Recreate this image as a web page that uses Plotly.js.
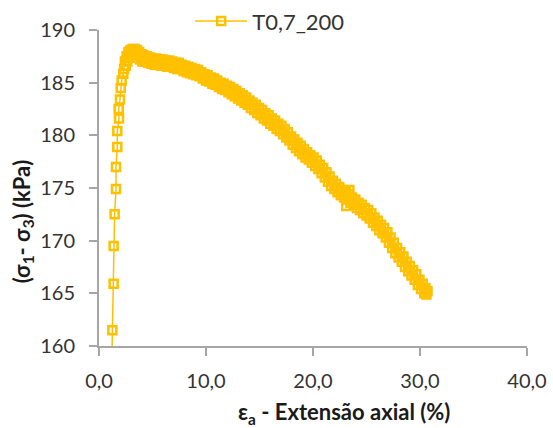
<!DOCTYPE html>
<html>
<head>
<meta charset="utf-8">
<script src="https://cdn.plot.ly/plotly-3.0.1.min.js"></script>
<style>
  html, body { margin: 0; padding: 0; background: #fff; }
  #chart { width: 553px; height: 428px; }
</style>
</head>
<body>
<div id="chart"></div>
<script>
// Ensaio triaxial T0,7_200: tensão desviatória vs. extensão axial
const seriesName = "T0,7_200";

// Extensão axial (%)
const strainAxial = [
  1.15, 1.25, 1.37, 1.37, 1.46, 1.59, 1.59, 1.71, 1.71, 1.87, 1.84, 1.96, 2.03, 2.12, 2.27,
  2.35, 2.42, 2.50, 2.58, 2.65, 2.75, 2.85, 2.95, 3.05, 3.15, 3.25, 3.35, 3.45, 3.55, 3.65,
  3.75, 3.85, 3.95, 4.05, 4.15, 4.30, 4.45, 4.60, 4.75, 4.90, 5.05, 5.20, 5.35, 5.50, 5.65,
  5.80, 5.95, 6.10, 6.25, 6.40, 6.55, 6.70, 6.85, 7.00, 7.15, 7.30, 7.45, 7.60, 7.75, 7.90,
  8.05, 8.20, 8.35, 8.50, 8.65, 8.80, 8.95, 9.10, 9.25, 9.40, 9.55, 9.70, 9.85, 10.00, 10.15,
  10.30, 10.45, 10.60, 10.75, 10.90, 11.05, 11.20, 11.35, 11.50, 11.65, 11.80, 11.95, 12.10, 12.25, 12.40,
  12.55, 12.70, 12.85, 13.00, 13.15, 13.30, 13.45, 13.60, 13.75, 13.90, 14.05, 14.20, 14.35, 14.50, 14.65,
  14.80, 14.95, 15.10, 15.25, 15.40, 15.55, 15.70, 15.85, 16.00, 16.15, 16.30, 16.45, 16.60, 16.75, 16.90,
  17.05, 17.20, 17.35, 17.50, 17.65, 17.80, 17.95, 18.10, 18.25, 18.40, 18.55, 18.70, 18.85, 19.00, 19.15,
  19.30, 19.45, 19.60, 19.75, 19.90, 20.05, 20.20, 20.35, 20.50, 20.65, 20.80, 20.95, 21.10, 21.25, 21.40,
  21.55, 21.70, 21.85, 22.00, 22.15, 22.30, 22.45, 22.60, 22.75, 22.90, 23.05, 23.10, 23.20, 23.35, 23.40,
  23.50, 23.65, 23.80, 23.95, 24.10, 24.25, 24.40, 24.55, 24.70, 24.85, 25.00, 25.15, 25.30, 25.45, 25.60,
  25.75, 25.90, 26.05, 26.20, 26.35, 26.50, 26.65, 26.80, 26.95, 27.10, 27.25, 27.40, 27.55, 27.70, 27.85,
  28.00, 28.15, 28.30, 28.45, 28.60, 28.75, 28.90, 29.05, 29.20, 29.35, 29.50, 29.65, 29.80, 29.95, 30.10,
  30.25, 30.40, 30.50, 30.60, 30.70
];

// Tensão desviatória (σ1 - σ3), kPa
const deviatorStress = [
  156.0, 161.5, 165.9, 169.5, 172.5, 174.9, 177.0, 178.9, 180.4, 181.6, 182.5, 183.4, 184.5, 185.2, 185.85,
  186.3, 187.0, 186.6, 187.5, 187.0, 187.9, 187.4, 188.1, 187.6, 188.2, 187.7, 188.2, 187.6, 188.1, 187.4,
  187.9, 187.2, 187.7, 187.0, 187.6, 187.0, 187.5, 186.9, 187.4, 186.8, 187.3, 186.7, 187.3, 186.7, 187.2,
  186.6, 187.2, 186.6, 187.1, 186.5, 187.1, 186.5, 187.0, 186.4, 186.9, 186.3, 186.9, 186.3, 186.7, 186.1,
  186.6, 186.0, 186.5, 185.9, 186.4, 185.8, 186.3, 185.7, 186.2, 185.6, 186.0, 185.4, 185.8, 185.2, 185.7,
  185.1, 185.5, 184.9, 185.4, 184.8, 185.2, 184.6, 185.0, 184.4, 184.9, 184.3, 184.7, 184.1, 184.6, 183.9,
  184.4, 183.7, 184.2, 183.5, 184.0, 183.3, 183.8, 183.1, 183.6, 182.9, 183.3, 182.6, 183.1, 182.4, 182.9,
  182.1, 182.6, 181.9, 182.4, 181.6, 182.1, 181.4, 181.9, 181.1, 181.6, 180.9, 181.4, 180.6, 181.1, 180.4,
  180.9, 180.1, 180.6, 179.8, 180.3, 179.5, 179.9, 179.1, 179.6, 178.8, 179.3, 178.5, 179.0, 178.2, 178.7,
  177.9, 178.4, 177.7, 178.1, 177.4, 177.9, 177.1, 177.6, 176.8, 177.2, 176.4, 176.9, 176.0, 176.5, 175.6,
  176.1, 175.2, 175.7, 174.9, 175.4, 174.6, 175.1, 174.3, 174.8, 174.1, 174.6, 173.3, 173.9, 174.4, 174.8,
  173.6, 174.1, 173.4, 173.9, 173.1, 173.6, 172.9, 173.4, 172.6, 173.1, 172.4, 172.9, 172.1, 172.6, 171.7,
  172.2, 171.4, 171.9, 171.0, 171.5, 170.7, 171.2, 170.3, 170.8, 169.8, 170.3, 169.3, 169.8, 168.8, 169.3,
  168.4, 168.9, 168.0, 168.5, 167.5, 168.0, 167.1, 167.6, 166.7, 167.2, 166.3, 166.8, 165.8, 166.3, 165.4,
  165.9, 165.0, 165.5, 164.9, 165.2
];

const xTickValues = [0, 10, 20, 30, 40];
const yTickValues = [160, 165, 170, 175, 180, 185, 190];

const gold = "#FFC000";
const axisGrey = "#A6A6A6";
const labelFont = { family: "Lato, 'Open Sans', sans-serif", size: 20, color: "#333333" };
const titleFont = { family: "Lato, 'Open Sans', sans-serif", size: 22, color: "#1a1a1a", weight: "bold" };

const trace = {
  type: "scatter",
  mode: "lines+markers",
  name: seriesName,
  x: strainAxial,
  y: deviatorStress,
  line: { color: gold, width: 1.5 },
  marker: {
    symbol: "square-open",
    size: 8,
    color: gold,
    line: { color: gold, width: 2.5 }
  },
  cliponaxis: true
};

const layout = {
  width: 553,
  height: 428,
  margin: { l: 99, r: 26, t: 30, b: 82, pad: 0, autoexpand: false },
  paper_bgcolor: "#ffffff",
  plot_bgcolor: "#ffffff",
  separators: ", ",
  showlegend: true,
  legend: {
    orientation: "h",
    x: 0.213,
    xanchor: "left",
    y: 1.028,
    yanchor: "middle",
    font: { family: "Lato, 'Open Sans', sans-serif", size: 22, color: "#333333" },
    itemwidth: 52,
    bgcolor: "rgba(0,0,0,0)"
  },
  xaxis: {
    range: [0, 40],
    tickvals: xTickValues,
    tickformat: ".1f",
    showgrid: false,
    zeroline: false,
    showline: true,
    linecolor: axisGrey,
    linewidth: 2,
    ticks: "outside",
    ticklen: 8,
    tickwidth: 2,
    tickcolor: axisGrey,
    tickfont: labelFont,
    ticklabelstandoff: 8,
    fixedrange: true,
    automargin: false
  },
  yaxis: {
    range: [160, 190],
    tickvals: yTickValues,
    showgrid: false,
    zeroline: false,
    showline: true,
    linecolor: axisGrey,
    linewidth: 2,
    ticks: "outside",
    ticklen: 8,
    tickwidth: 2,
    tickcolor: axisGrey,
    tickfont: labelFont,
    ticklabelstandoff: 10,
    fixedrange: true,
    automargin: false
  },
  annotations: [
    {
      text: "ε<sub>a</sub> - Extensão axial (%)",
      xref: "paper", yref: "paper",
      x: 0.572, y: -0.213,
      xanchor: "center", yanchor: "middle",
      showarrow: false,
      font: titleFont
    },
    {
      text: "(σ<sub>1</sub>- σ<sub>3</sub>) (kPa)",
      xref: "paper", yref: "paper",
      x: -0.1776, y: 0.3946,
      xanchor: "center", yanchor: "middle",
      textangle: -90,
      showarrow: false,
      font: titleFont
    }
  ]
};

Plotly.newPlot("chart", [trace], layout, { displayModeBar: false, staticPlot: true });
</script>
</body>
</html>
